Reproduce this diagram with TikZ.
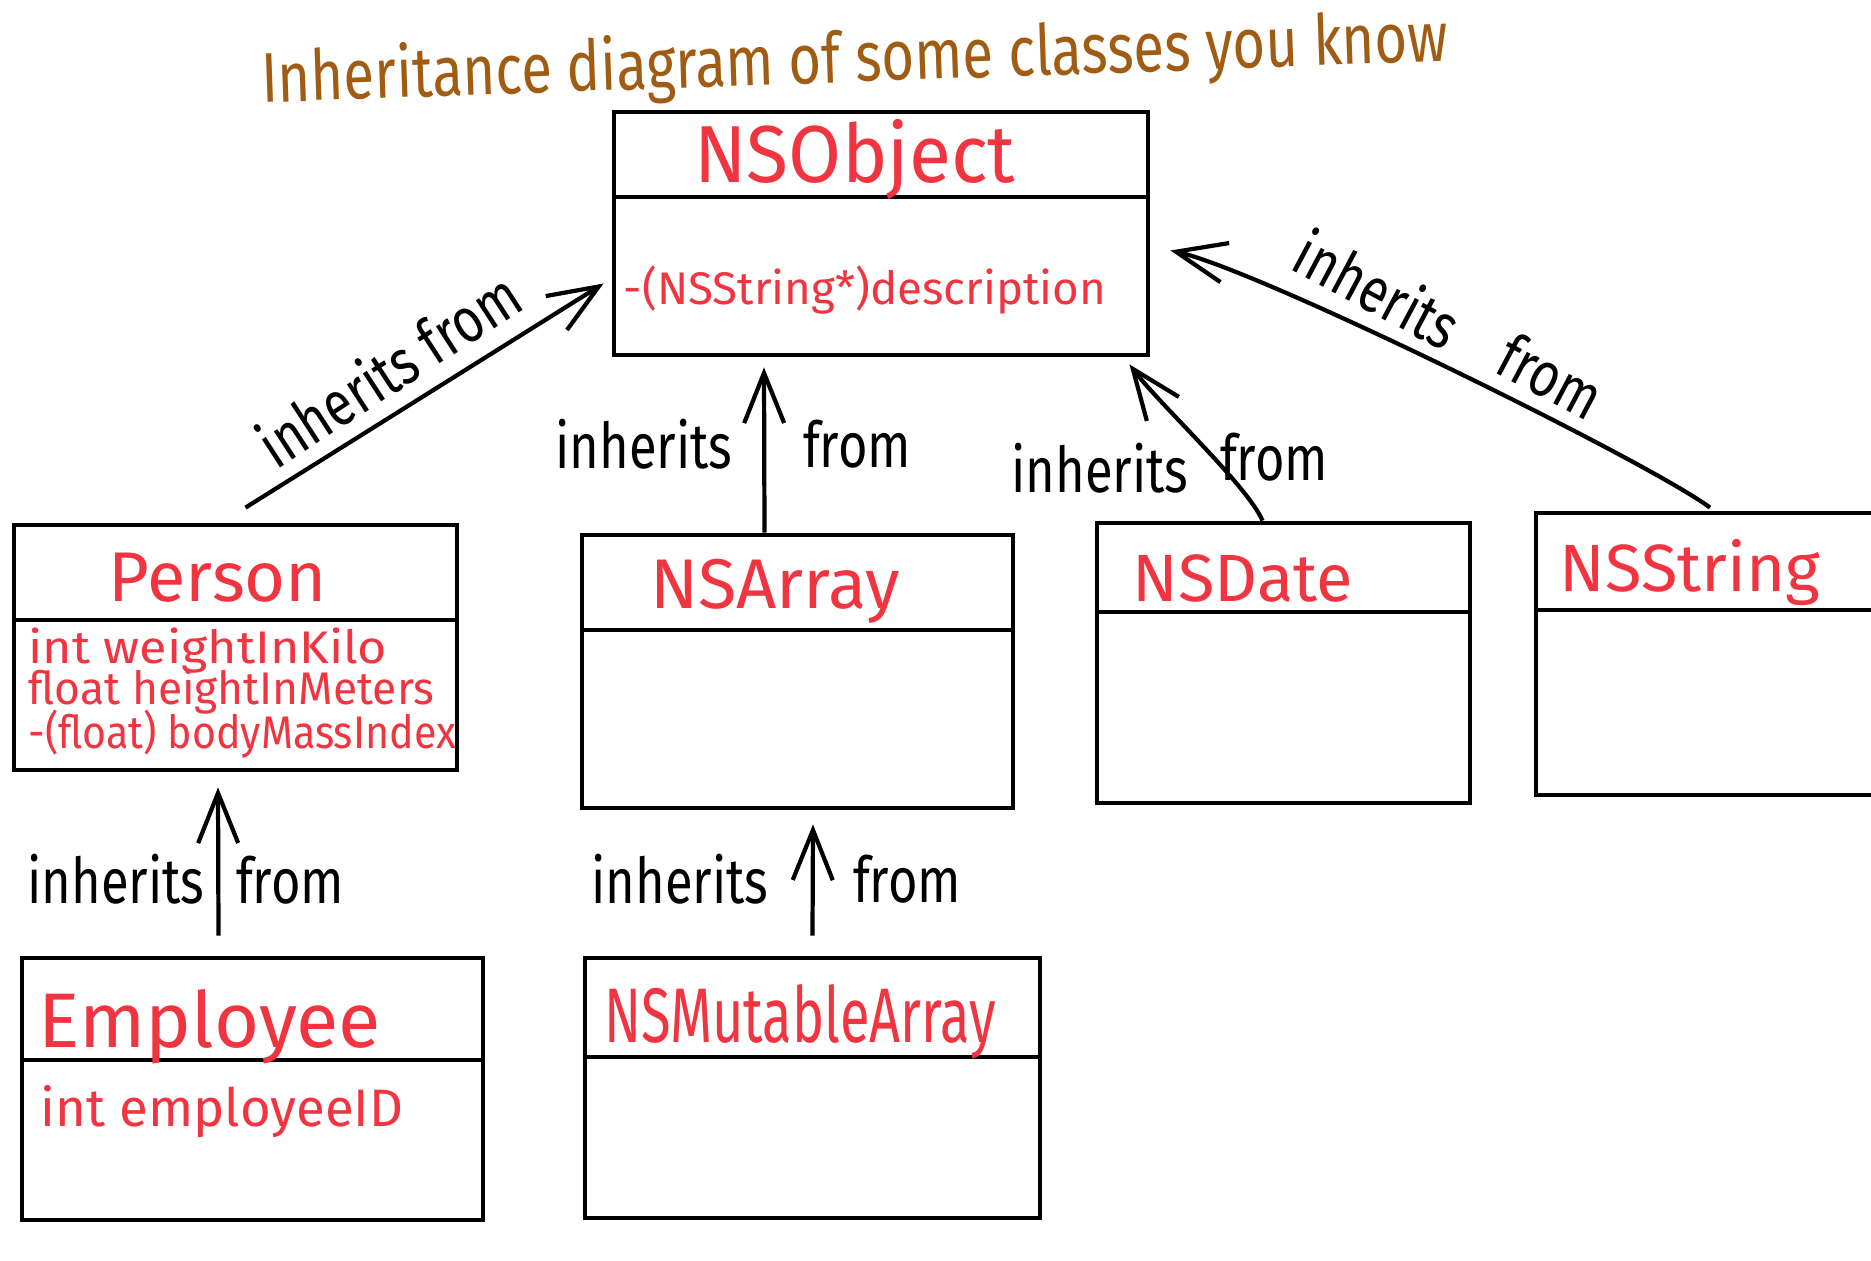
\documentclass[tikz,border=0pt]{standalone}
\usepackage{fontspec}
\setmainfont{Fira Sans}
\usepackage{graphicx}
\usetikzlibrary{arrows.meta}
\definecolor{inkred}{RGB}{240,52,64}
\definecolor{inkbrown}{RGB}{160,92,18}
\newcommand{\hw}[2][0.8]{\scalebox{#1}[1]{#2}}

\begin{document}
\begin{tikzpicture}[x=0.01cm, y=-0.01cm,
    klass/.style={draw, line width=1.3pt, inner sep=0pt},
    divline/.style={line width=1.3pt},
    inh/.style={line width=1.2pt, -{Straight Barb[length=5mm,width=4mm]}},
    cname/.style={inkred, inner sep=0pt},
    attr/.style={inkred, inner sep=0pt, anchor=west, font=\fontsize{13}{14}\selectfont},
    lbl/.style={inner sep=0pt, font=\fontsize{18}{20}\selectfont}]
    \clip (0,0) rectangle (1871,1261);

    % Title
    \node[inkbrown, rotate=2, inner sep=0pt, font=\fontsize{20}{24}\selectfont] (title) at (855,62) {\hw{Inheritance diagram of some classes you know}};

    % Class boxes
    \node[klass, minimum width=5.34cm, minimum height=2.43cm] (obj) at (881,233.5) {};
    \node[klass, minimum width=4.43cm, minimum height=2.45cm] (person) at (235.5,647.5) {};
    \node[klass, minimum width=4.31cm, minimum height=2.73cm] (arr) at (797.5,671.5) {};
    \node[klass, minimum width=3.73cm, minimum height=2.80cm] (date) at (1283.5,663) {};
    \node[klass, minimum width=3.64cm, minimum height=2.82cm] (str) at (1718,654) {};
    \node[klass, minimum width=4.61cm, minimum height=2.62cm] (emp) at (252.5,1089) {};
    \node[klass, minimum width=4.55cm, minimum height=2.60cm] (mut) at (812.5,1088) {};

    % Dividers
    \draw[divline] (obj.west |- 0,197) -- (obj.east |- 0,197);
    \draw[divline] (person.west |- 0,620) -- (person.east |- 0,620);
    \draw[divline] (arr.west |- 0,630) -- (arr.east |- 0,630);
    \draw[divline] (date.west |- 0,612) -- (date.east |- 0,612);
    \draw[divline] (str.west |- 0,610) -- (str.east |- 0,610);
    \draw[divline] (emp.west |- 0,1060) -- (emp.east |- 0,1060);
    \draw[divline] (mut.west |- 0,1057) -- (mut.east |- 0,1057);

    % Class names and members
    \node[cname, font=\fontsize{23}{28}\selectfont] (objname) at (855,160) {\hw[0.95]{NSObject}};
    \node[cname, font=\fontsize{13}{16}\selectfont] (objdesc) at (865,290) {-(NSString*)description};
    \node[cname, font=\fontsize{20}{24}\selectfont] (personname) at (218,578) {Person};
    \node[attr] (pattr1) at (28,651) {\hw[1.1]{int weightInKilo}};
    \node[attr] (pattr2) at (28,692) {\hw[0.97]{float heightInMeters}};
    \node[attr] (pattr3) at (28,734) {\hw[0.9]{-(float) bodyMassIndex}};
    \node[cname, font=\fontsize{20}{24}\selectfont] (arrname) at (775,591) {NSArray};
    \node[cname, font=\fontsize{19}{24}\selectfont] (datename) at (1243,578) {NSDate};
    \node[cname, font=\fontsize{19}{24}\selectfont] (strname) at (1690,573) {NSString};
    \node[cname, font=\fontsize{22}{26}\selectfont] (empname) at (210,1027) {Employee};
    \node[cname, font=\fontsize{15}{18}\selectfont] (empattr) at (222,1112) {int employeeID};
    \node[cname, font=\fontsize{22}{26}\selectfont] (mutname) at (800,1022) {\hw[0.7]{NSMutableArray}};

    % Inheritance arrows
    \draw[inh] ([shift={(10,-15)}]person.north) -- ([shift={(-8,50)}]obj.west);
    \draw[inh] ([shift={(-33,0)}]arr.north) -- ([shift={(-117,10)}]obj.south);
    \draw[inh] ([shift={(-21,0)}]date.north) .. controls +(-15,-35) and +(30,40) .. ([shift={(-21,7)}]obj.south east);
    \draw[inh] ([shift={(-8,-3)}]str.north) .. controls +(-60,-45) and +(90,20) .. ([shift={(20,17)}]obj.east);
    \draw[inh] ([shift={(-34,-20)}]emp.north) -- ([shift={(-17.5,15)}]person.south);
    \draw[inh] ([shift={(0,-20)}]mut.north) -- ([shift={(15.5,14)}]arr.south);

    % Arrow labels
    \node[lbl, rotate=33] (l1) at (388,369) {\hw{inherits from}};
    \node[lbl] (l2a) at (644,444) {\hw{inherits}};
    \node[lbl] (l2b) at (857,444) {\hw{from}};
    \node[lbl] (l3a) at (1100,468) {\hw{inherits}};
    \node[lbl] (l3b) at (1274,457) {\hw{from}};
    \node[lbl, rotate=-28] (l4a) at (1378,289) {\hw{inherits}};
    \node[lbl, rotate=-28] (l4b) at (1551,376) {\hw{from}};
    \node[lbl] (l5a) at (116,879) {\hw{inherits}};
    \node[lbl] (l5b) at (290,880) {\hw{from}};
    \node[lbl] (l6a) at (680,879) {\hw{inherits}};
    \node[lbl] (l6b) at (907,879) {\hw{from}};
\end{tikzpicture}
\end{document}
